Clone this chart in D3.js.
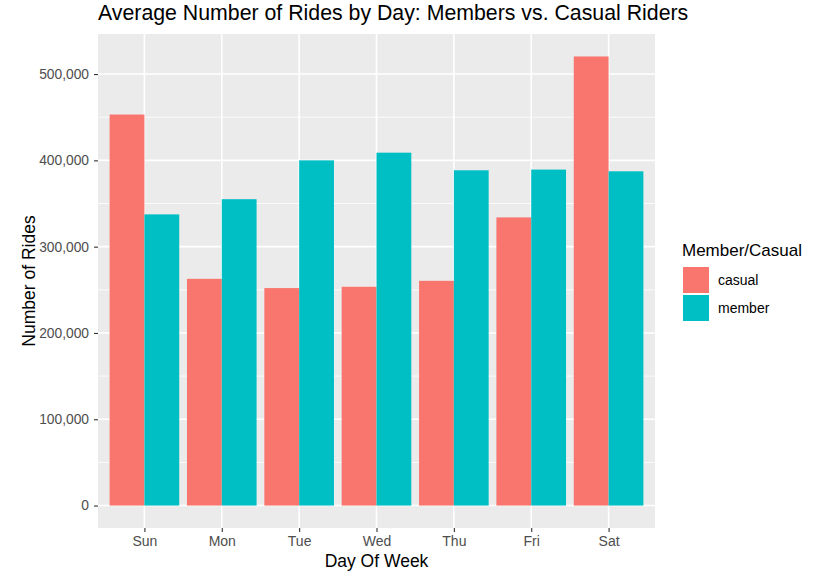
<!DOCTYPE html>
<html>
<head>
<meta charset="utf-8">
<script src="https://cdn.jsdelivr.net/npm/d3@7"></script>
<style>
  body { margin: 0; background: #fff; }
  text { font-family: "Liberation Sans", Arial, sans-serif; }
</style>
</head>
<body>
<div class="container"></div>
<script>
// values
var days = ['Sun', 'Mon', 'Tue', 'Wed', 'Thu', 'Fri', 'Sat'];
var groups = ['casual', 'member'];
var casual = [453100, 262700, 252000, 253500, 260400, 333900, 520400];
var member = [337400, 355000, 400000, 408900, 388500, 389300, 387300];
var yTicks = [0, 100000, 200000, 300000, 400000, 500000];
var colors = ['#F8766D', '#00BFC4'];

var W = 813, H = 581;
var margin = { top: 34, right: 158, bottom: 53, left: 98 },
  width = W - margin.left - margin.right,
  height = H - margin.top - margin.bottom;

var svg = d3
  .select('.container')
  .append('svg')
  .attr('width', W)
  .attr('height', H);

var g = svg
  .append('g')
  .attr('transform', 'translate(' + margin.left + ',' + margin.top + ')');

// discrete axis with ggplot's 0.6 expansion
var step = width / (days.length - 1 + 1.2);
var x = d3
  .scalePoint()
  .domain(days)
  .range([0.6 * step, width - 0.6 * step]);

var ymax = d3.max(casual.concat(member));
var y = d3
  .scaleLinear()
  .domain([-0.05 * ymax, ymax * 1.05])
  .range([height, 0]);

g.append('rect')
  .attr('width', width)
  .attr('height', height)
  .attr('fill', '#EBEBEB');

// minor grid
var minor = d3.range(50000, 550000, 100000);
g.selectAll('line.minor')
  .data(minor)
  .enter()
  .append('line')
  .attr('x1', 0)
  .attr('x2', width)
  .attr('y1', function (d) { return y(d); })
  .attr('y2', function (d) { return y(d); })
  .attr('stroke', '#fff')
  .attr('stroke-width', 0.8);

g.selectAll('line.hmajor')
  .data(yTicks)
  .enter()
  .append('line')
  .attr('x1', 0)
  .attr('x2', width)
  .attr('y1', function (d) { return y(d); })
  .attr('y2', function (d) { return y(d); })
  .attr('stroke', '#fff')
  .attr('stroke-width', 1.6);

g.selectAll('line.vmajor')
  .data(days)
  .enter()
  .append('line')
  .attr('x1', function (d) { return x(d); })
  .attr('x2', function (d) { return x(d); })
  .attr('y1', 0)
  .attr('y2', height)
  .attr('stroke', '#fff')
  .attr('stroke-width', 1.6);

var xInner = d3
  .scaleBand()
  .domain(groups)
  .range([-0.45 * step, 0.45 * step]);

var series = [casual, member];
series.forEach(function (vals, k) {
  g.selectAll('rect.s' + k)
    .data(vals)
    .enter()
    .append('rect')
    .attr('x', function (d, i) { return x(days[i]) + xInner(groups[k]); })
    .attr('width', xInner.bandwidth())
    .attr('y', function (d) { return y(d); })
    .attr('height', function (d) { return y(0) - y(d); })
    .attr('fill', colors[k]);
});

// axes
var yAxis = d3
  .axisLeft(y)
  .tickValues(yTicks)
  .tickSize(4)
  .tickPadding(5)
  .tickFormat(d3.format(','));
var ya = g.append('g').call(yAxis);
ya.select('.domain').remove();
ya.selectAll('line').attr('stroke', '#333').attr('stroke-width', 1.1);
ya.selectAll('text')
  .attr('fill', '#4D4D4D')
  .style('font-size', '13.8px')
  .attr('font-family', null);

var xAxis = d3.axisBottom(x).tickSize(4).tickPadding(4);
var xa = g
  .append('g')
  .attr('transform', 'translate(0,' + height + ')')
  .call(xAxis);
xa.select('.domain').remove();
xa.selectAll('line').attr('stroke', '#333').attr('stroke-width', 1.1);
xa.selectAll('text')
  .attr('fill', '#4D4D4D')
  .style('font-size', '14px')
  .attr('font-family', null);

// titles
svg.append('text')
  .attr('x', margin.left)
  .attr('y', 20)
  .style('font-size', '21.3px')
  .attr('fill', '#000')
  .text('Average Number of Rides by Day: Members vs. Casual Riders');

svg.append('text')
  .attr('x', margin.left + width / 2)
  .attr('y', 567)
  .attr('text-anchor', 'middle')
  .style('font-size', '17.5px')
  .text('Day Of Week');

svg.append('text')
  .attr('transform', 'translate(35,' + (margin.top + height / 2) + ') rotate(-90)')
  .attr('text-anchor', 'middle')
  .style('font-size', '17.5px')
  .text('Number of Rides');

// legend
var lg = svg.append('g').attr('transform', 'translate(682,0)');
lg.append('text')
  .attr('x', 0)
  .attr('y', 256)
  .style('font-size', '17px')
  .text('Member/Casual');
groups.forEach(function (name, k) {
  lg.append('rect')
    .attr('x', 1)
    .attr('y', 267 + k * 28)
    .attr('width', 26)
    .attr('height', 26)
    .attr('fill', colors[k]);
  lg.append('text')
    .attr('x', 36)
    .attr('y', 267 + k * 28 + 13)
    .attr('dy', '0.35em')
    .style('font-size', '14px')
    .attr('fill', '#000')
    .text(name);
});
</script>
</body>
</html>
